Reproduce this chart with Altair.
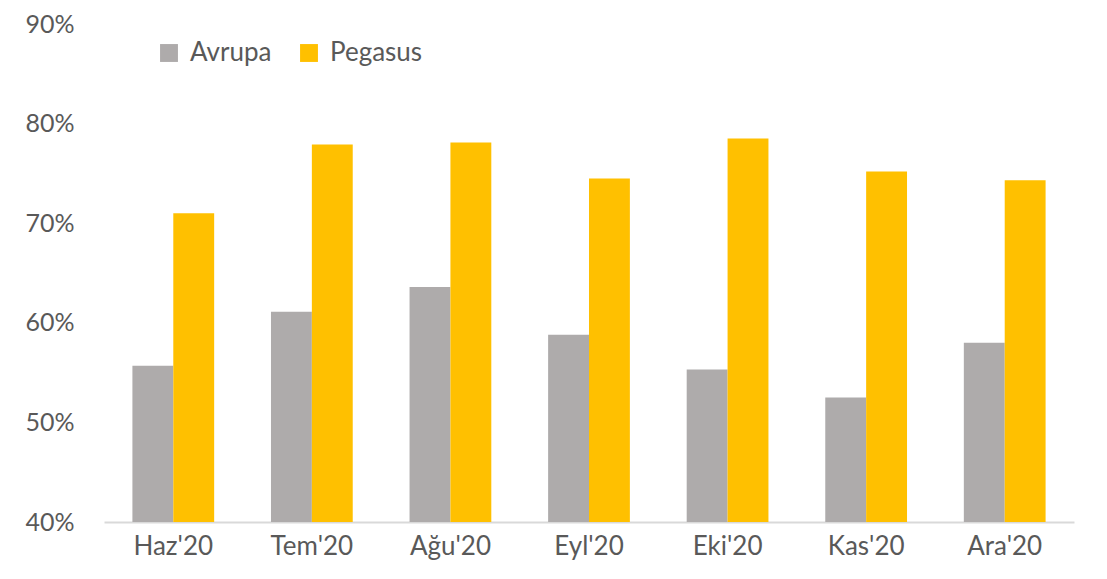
import altair as alt
import pandas as pd

months = ["Haz'20", "Tem'20", "Ağu'20", "Eyl'20", "Eki'20", "Kas'20", "Ara'20"]
avrupa = [55.7, 61.1, 63.6, 58.8, 55.3, 52.5, 58.0]
pegasus = [71.0, 77.9, 78.1, 74.5, 78.5, 75.2, 74.3]
series = ["Avrupa", "Pegasus"]
colors = ["#AEABAB", "#FFC000"]

rows = []
for m, a, p in zip(months, avrupa, pegasus):
    rows.append({"month": m, "series": "Avrupa", "value": a})
    rows.append({"month": m, "series": "Pegasus", "value": p})
df = pd.DataFrame(rows)

FONT = "Lato"
TXT = "#595959"

chart = alt.Chart(df).mark_bar().encode(
    x=alt.X("month:N", sort=months, title=None,
            scale=alt.Scale(paddingInner=0.41, paddingOuter=0.205),
            axis=alt.Axis(labelAngle=0, ticks=False, domainColor="#D9D9D9", domainWidth=2,
                          labelFontSize=26, labelColor=TXT, labelFont=FONT, labelPadding=11)),
    xOffset=alt.XOffset("series:N", sort=series),
    y=alt.Y("value:Q", title=None,
            scale=alt.Scale(domain=[40, 90], zero=False, nice=False),
            axis=alt.Axis(values=[40, 50, 60, 70, 80, 90], labelExpr="datum.value + '%'",
                          grid=False, ticks=False, domain=False,
                          labelFontSize=25, labelColor=TXT, labelFont=FONT, labelPadding=30)),
    y2=alt.datum(40),
    color=alt.Color("series:N", sort=series,
                    scale=alt.Scale(domain=series, range=colors),
                    legend=alt.Legend(title=None, orient="none", direction="horizontal",
                                      legendX=52, legendY=16, symbolType="square", symbolSize=320,
                                      symbolStrokeWidth=0, labelFontSize=26, labelColor=TXT,
                                      labelFont=FONT, columnPadding=24, labelOffset=8)),
).properties(
    width=970, height=498,
    autosize=alt.AutoSizeParams(type="none"),
    padding={"left": 96, "top": 16, "right": 25, "bottom": 50},
).configure_view(stroke=None)

chart.save("out.html", embed_options={"renderer": "svg", "actions": False})
